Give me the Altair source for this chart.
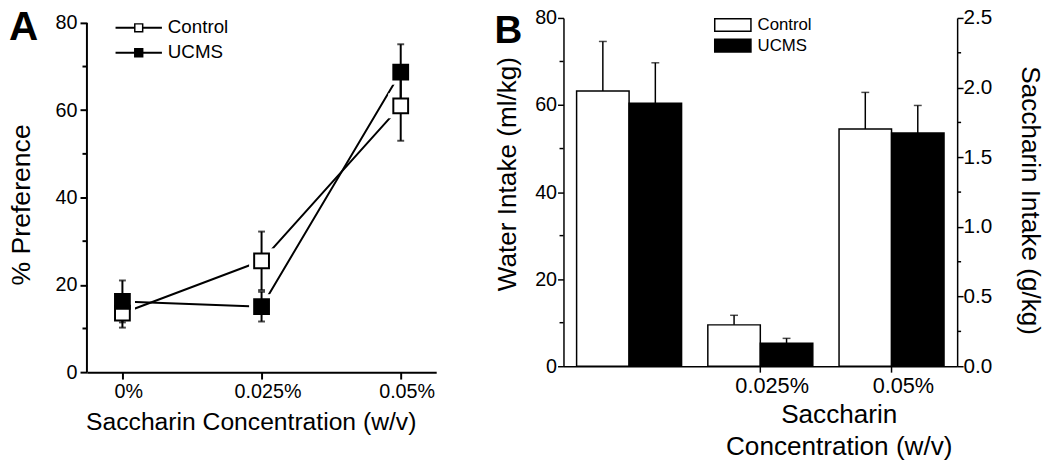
import altair as alt
import pandas as pd

# ---------------- data ----------------
conc = ["0%", "0.025%", "0.05%"]
series = ["Control", "UCMS"]

pref_control = [13.5, 25.5, 61.0]
pref_control_sem = [3.3, 6.7, 8.0]
pref_ucms = [16.2, 15.0, 68.7]
pref_ucms_sem = [4.8, 3.4, 6.4]

groups = ["0%", "0.025%", "0.05%"]
intake_control = [63.2, 9.5, 54.5]
intake_control_sem = [11.4, 2.2, 8.4]
intake_ucms = [60.4, 5.3, 53.6]
intake_ucms_sem = [9.3, 1.1, 6.3]

left_major = [0, 20, 40, 60, 80]
left_minor = [10, 30, 50, 70]
right_major = [0.0, 0.5, 1.0, 1.5, 2.0, 2.5]
right_minor = [0.25, 0.75, 1.25, 1.75, 2.25]

FONT = "Liberation Sans"

# ---------------- panel A ----------------
WA, HA = 354, 359
ymaxA = 80 * HA / 354.0

rowsA = []
for s, vals, sems in [("Control", pref_control, pref_control_sem),
                      ("UCMS", pref_ucms, pref_ucms_sem)]:
    for c, v, e in zip(conc, vals, sems):
        rowsA.append({"conc": c, "series": s, "value": v, "lo": v - e, "hi": v + e})
dfA = pd.DataFrame(rowsA)

xA_axis = alt.Axis(title="Saccharin Concentration (w/v)", labelAngle=0, labelFontSize=20,
                   labelOffset=6, labelPadding=3, tickSize=7, tickWidth=2, domainWidth=2,
                   titleFontSize=25, titleX=166, titleY=58, titleBaseline="alphabetic",
                   titleAlign="center")
yA_axis = alt.Axis(title="% Preference", values=left_major, tickSize=7, tickWidth=2,
                   domain=False, labelFontSize=20, labelPadding=3, titleFontSize=27,
                   titleX=-58, titleY=189, titleBaseline="alphabetic", titleAlign="center",
                   titleAngle=-90)
xA_scale = alt.Scale(type="point", padding=0.255)
yA_scale = alt.Scale(domain=[0, ymaxA], nice=False, zero=True)


def xA():
    return alt.X("conc:N", sort=conc, scale=xA_scale, axis=xA_axis)


def yA(field):
    return alt.Y(f"{field}:Q", scale=yA_scale, axis=yA_axis)


baseA = alt.Chart(dfA)
linesA = baseA.mark_line(color="black", strokeWidth=2).encode(
    x=xA(), y=yA("value"), detail="series:N")
halosA = baseA.mark_point(shape="square", filled=True, color="white", size=640, opacity=1).encode(
    x=xA(), y=yA("value"))
errA = baseA.mark_rule(color="black", strokeWidth=2).encode(
    x=xA(), y=yA("lo"), y2="hi")
capLoA = baseA.mark_tick(color="black", size=7, thickness=2).encode(x=xA(), y=yA("lo"))
capHiA = baseA.mark_tick(color="black", size=7, thickness=2).encode(x=xA(), y=yA("hi"))
markA = baseA.mark_point(shape="square", filled=True, size=225, stroke="black",
                         strokeWidth=2, opacity=1).encode(
    x=xA(), y=yA("value"),
    fill=alt.Fill("series:N", scale=alt.Scale(domain=series, range=["white", "black"]), legend=None))

axisLineA = alt.Chart(pd.DataFrame({"lo": [left_major[0]], "hi": [left_major[-1]]})).mark_rule(
    color="black", strokeWidth=2).encode(x=alt.value(0), y=yA("lo"), y2="hi")
minorA = alt.Chart(pd.DataFrame({"m": left_minor})).mark_rule(color="black", strokeWidth=2).encode(
    x=alt.value(-4.5), x2=alt.value(0), y=yA("m"))

legA = []
for i, s in enumerate(series):
    d = pd.DataFrame({"series": [s]})
    yy = 10 + 25.3 * i
    legA.append(alt.Chart(d).mark_rule(color="black", strokeWidth=2).encode(
        x=alt.value(29), x2=alt.value(76), y=alt.value(yy)))
    legA.append(alt.Chart(d).mark_point(shape="square", filled=True, size=64, stroke="black",
                                        strokeWidth=1.5, opacity=1).encode(
        x=alt.value(52.5), y=alt.value(yy),
        fill=alt.value("white" if i == 0 else "black")))
    legA.append(alt.Chart(d).mark_text(align="left", baseline="middle", fontSize=19,
                                       font=FONT, color="black").encode(
        x=alt.value(82), y=alt.value(yy - 0.5), text="series:N"))

letterA = alt.Chart(pd.DataFrame({"t": ["A"]})).mark_text(
    align="left", baseline="alphabetic", fontSize=41, fontWeight="bold", font=FONT,
    color="black").encode(x=alt.value(-79), y=alt.value(22.5), text="t:N")

chartA = alt.layer(linesA, halosA, errA, capLoA, capHiA, markA, axisLineA, minorA,
                   *legA, letterA).properties(width=WA, height=HA)

# ---------------- panel B ----------------
WB, HB = 399, 353

rowsB = []
for s, vals, sems in [("Control", intake_control, intake_control_sem),
                      ("UCMS", intake_ucms, intake_ucms_sem)]:
    for g, v, e in zip(groups, vals, sems):
        rowsB.append({"grp": g, "series": s, "value": v, "hi": v + e})
dfB = pd.DataFrame(rowsB)

xB_axis = alt.Axis(title=["Saccharin", "Concentration (w/v)"], values=groups[1:], labelAngle=0,
                   labelFontSize=22, labelOffset=12, labelPadding=4, tickSize=6, tickWidth=1.5,
                   domainWidth=1.5, titleFontSize=26.5, titleX=279, titleY=57,
                   titleBaseline="alphabetic", titleAlign="center", titleLineHeight=32)
yB_axis = alt.Axis(title="Water Intake (ml/kg)", values=left_major, tickSize=6, tickWidth=1.5,
                   domainWidth=1.5, labelFontSize=20, labelPadding=1, titleFontSize=26.5,
                   titleX=-49, titleY=157.7, titleBaseline="alphabetic", titleAlign="center",
                   titleAngle=-90)
xB_scale = alt.Scale(paddingInner=0.2, paddingOuter=0.1)
yB_scale = alt.Scale(domain=[0, 80], nice=False)
off_scale = alt.Scale(paddingInner=0, paddingOuter=0)


def xB():
    return alt.X("grp:N", sort=groups, scale=xB_scale, axis=xB_axis)


def offB():
    return alt.XOffset("series:N", sort=series, scale=off_scale)


def yB(field):
    return alt.Y(f"{field}:Q", scale=yB_scale, axis=yB_axis)


baseB = alt.Chart(dfB)
barsB = baseB.mark_bar(stroke="black", strokeWidth=1.5, opacity=1).encode(
    x=xB(), xOffset=offB(), y=yB("value"),
    color=alt.Color("series:N", scale=alt.Scale(domain=series, range=["white", "black"]), legend=None))
errB = baseB.mark_rule(color="black", strokeWidth=1.5).encode(
    x=xB(), xOffset=offB(), y=yB("value"), y2="hi")
capB = baseB.mark_tick(color="black", size=8, thickness=1.5).encode(
    x=xB(), xOffset=offB(), y=yB("hi"))
minorB = alt.Chart(pd.DataFrame({"m": left_minor})).mark_rule(color="black", strokeWidth=1.5).encode(
    x=alt.value(-4), x2=alt.value(0), y=yB("m"))

legB = []
for i, s in enumerate(series):
    d = pd.DataFrame({"series": [s]})
    y0 = 0.7 + 21 * i
    legB.append(alt.Chart(d).mark_rect(stroke="black", strokeWidth=1.5,
                                       fill="white" if i == 0 else "black").encode(
        x=alt.value(153.3), x2=alt.value(190), y=alt.value(y0), y2=alt.value(y0 + 12.7)))
    legB.append(alt.Chart(d).mark_text(align="left", baseline="middle", fontSize=17,
                                       font=FONT, color="black").encode(
        x=alt.value(196.7), y=alt.value(y0 + 7), text="series:N"))

letterB = alt.Chart(pd.DataFrame({"t": ["B"]})).mark_text(
    align="left", baseline="alphabetic", fontSize=39, fontWeight="bold", font=FONT,
    color="black").encode(x=alt.value(-70), y=alt.value(25), text="t:N")

leftB = alt.layer(barsB, errB, capB, minorB, *legB, letterB)

yR_axis = alt.Axis(title="Saccharin Intake (g/kg)", orient="right", values=right_major,
                   format=".1f", tickSize=6, tickWidth=1.5, domainWidth=1.5, labelFontSize=21,
                   labelPadding=0, titleFontSize=26.5, titleX=65, titleY=184.7,
                   titleBaseline="alphabetic", titleAlign="center", titleAngle=90)
yR_scale = alt.Scale(domain=[0, 2.5], nice=False)
rightAxisB = alt.Chart(pd.DataFrame({"s": right_major})).mark_rule(opacity=0).encode(
    y=alt.Y("s:Q", scale=yR_scale, axis=yR_axis))
minorR = alt.Chart(pd.DataFrame({"s": right_minor})).mark_rule(color="black", strokeWidth=1.5).encode(
    x=alt.value(WB), x2=alt.value(WB + 4), y=alt.Y("s:Q", scale=yR_scale, axis=yR_axis))
rightB = alt.layer(rightAxisB, minorR)

chartB = alt.layer(leftB, rightB).resolve_scale(y="independent").properties(width=WB, height=HB)

chart = alt.hconcat(chartA, chartB, spacing=59).properties(
    padding={"left": 0, "top": -4, "right": 0, "bottom": 0}
).configure(font=FONT).configure_view(stroke=None).configure_axis(
    grid=False, labelColor="black", titleColor="black", domainColor="black", tickColor="black",
    labelFont=FONT, titleFont=FONT, titleFontWeight="normal"
)

chart.save("out.html", embed_options={"renderer": "svg", "actions": False})
